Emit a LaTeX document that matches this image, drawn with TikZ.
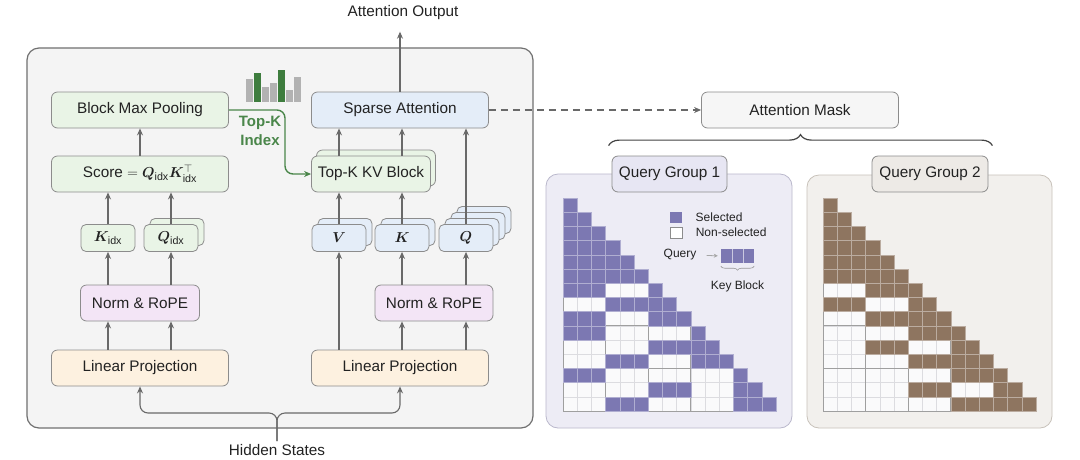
\documentclass[tikz,border=0pt]{standalone}
\usepackage{amsmath,bm}
\usepackage{fontspec}
\setmainfont{Liberation Sans}
\usepackage{xcolor}
\usepackage{tikz}
\usetikzlibrary{shapes,arrows.meta,positioning,calc,decorations.pathreplacing}
\definecolor{ink}{RGB}{34,34,34}
\definecolor{edgegray}{RGB}{140,140,140}
\definecolor{arrowgray}{RGB}{105,105,105}
\definecolor{outerfill}{RGB}{244,244,244}
\definecolor{outeredge}{RGB}{112,112,112}
\definecolor{greenfill}{RGB}{233,244,230}
\definecolor{bluefill}{RGB}{228,237,248}
\definecolor{pinkfill}{RGB}{243,229,246}
\definecolor{orangefill}{RGB}{253,241,224}
\definecolor{maskfill}{RGB}{246,246,246}
\definecolor{topkgreen}{RGB}{74,134,74}
\definecolor{bargreen}{RGB}{62,125,62}
\definecolor{bargray}{RGB}{178,178,178}
\definecolor{lavfill}{RGB}{237,236,245}
\definecolor{lavtab}{RGB}{231,230,243}
\definecolor{lavedge}{RGB}{186,184,204}
\definecolor{sandfill}{RGB}{242,240,237}
\definecolor{sandtab}{RGB}{237,234,230}
\definecolor{sandedge}{RGB}{200,194,186}
\definecolor{selpurple}{RGB}{124,120,178}
\definecolor{selbrown}{RGB}{142,117,96}
\definecolor{cellbg}{RGB}{250,250,251}
\definecolor{cellline}{RGB}{220,220,224}
\tikzset{
    box/.style={
        rectangle,
        rounded corners=6pt,
        draw=edgegray,
        line width=0.8pt,
        minimum width=177pt,
        minimum height=36pt,
        text=ink,
        font=\fontsize{15.3}{18}\selectfont
    },
    smallbox/.style={box, rounded corners=5pt, minimum width=54pt, minimum height=27pt},
    plaintext/.style={text=ink, font=\fontsize{15.3}{18}\selectfont},
    legtxt/.style={text=ink, font=\fontsize{12}{14}\selectfont},
    arr/.style={
        -{Stealth[length=7pt,width=6pt]},
        draw=arrowgray,
        line width=1.1pt
    },
    greenarr/.style={arr, draw=topkgreen, line width=1.4pt},
    dasharr/.style={arr, dash pattern=on 7pt off 5pt},
    emptycell/.style={fill=cellbg, draw=cellline, line width=0.5pt},
    blockline/.style={draw=gray!75, line width=0.8pt}
}
\newcommand{\maskgrid}[3]{%
  \begin{scope}[shift={#1}, x=14.2pt, y=-14.2pt]
    \foreach \qr in {0,...,14}
      \foreach \kc in {0,...,\qr}
        \draw[emptycell] (\kc,\qr) rectangle ++(1,1);
    \foreach \k in {0,...,4}{
      \draw[blockline] (3*\k,3*\k) -- (3*\k,15);
      \draw[blockline] (0,3*\k+3) -- (3*\k+3,3*\k+3);
    }
    \foreach \qr/\ka/\kb in {#3}
      \foreach \kc in {0,...,\qr}{
        \pgfmathtruncatemacro\kblk{int(\kc/3)}
        \pgfmathtruncatemacro\kon{or(\kblk==\ka,\kblk==\kb)}
        \ifnum\kon=1 \draw[fill=#2, draw=#2!60!white, line width=0.5pt] (\kc,\qr) rectangle ++(1,1); \fi
      }
  \end{scope}}

\begin{document}
\begin{tikzpicture}[x=1pt, y=-1pt]
\path[use as bounding box, fill=white] (0,0) rectangle (1080,459);

% indexer and attention branch
\node[box, rounded corners=12pt, fill=outerfill, draw=outeredge, line width=1.2pt, minimum width=506pt, minimum height=380pt] (encoder) at (280,238) {};

\node[box, fill=greenfill] (bmp) at (140,110) {Block Max Pooling};
\node[box, fill=greenfill] (score) at (140,174) {Score $=\boldsymbol{Q}_{\text{idx}}\boldsymbol{K}_{\text{idx}}^{\top}$};
\node[smallbox, fill=greenfill] (kidx) at (108,238) {$\boldsymbol{K}_{\text{idx}}$};
\node[smallbox, fill=greenfill] (qidx-b) at (177,232) {};
\node[smallbox, fill=greenfill] (qidx) at (171,238) {$\boldsymbol{Q}_{\text{idx}}$};
\node[box, fill=pinkfill, minimum width=119pt] (normL) at (140,303) {Norm \& RoPE};
\node[box, fill=orangefill] (linL) at (140,368) {Linear Projection};

\node[box, fill=bluefill] (sparse) at (400,110) {Sparse Attention};
\node[box, fill=greenfill, minimum width=119pt] (topk-b) at (376,168) {};
\node[box, fill=greenfill, minimum width=119pt] (topk) at (371,174) {Top-K KV Block};
\node[smallbox, fill=bluefill] (vval-b) at (345,232) {};
\node[smallbox, fill=bluefill] (vval) at (339,238) {$\boldsymbol{V}$};
\node[smallbox, fill=bluefill] (kval-b) at (408,232) {};
\node[smallbox, fill=bluefill] (kval) at (402,238) {$\boldsymbol{K}$};
\foreach \s in {3,2,1}
    \node[smallbox, fill=bluefill] (qval-\s) at (466+6*\s,238-6*\s) {};
\node[smallbox, fill=bluefill] (qval) at (466,238) {$\boldsymbol{Q}$};
\node[box, fill=pinkfill, minimum width=118pt] (normR) at (434,303) {Norm \& RoPE};
\node[box, fill=orangefill] (linR) at (400,368) {Linear Projection};

\node[plaintext] (out) at (403,13) {Attention Output};
\coordinate (fork) at (277,413);
\node[plaintext, below=28pt of fork] (hid) {Hidden States};

% top-k scores
\foreach \k/\h/\c in {0/23/bargray,1/29/bargreen,2/15/bargray,3/19/bargray,4/32/bargreen,5/12/bargray,6/25/bargray}
    \fill[\c] (246+8*\k,102) rectangle ++(7,-\h);
\node[text=topkgreen, font=\bfseries\fontsize{15}{19}\selectfont, align=center] (topklbl) at (260,131) {Top-K\\Index};
\coordinate (bend) at (285,140);

\draw[arr] (linL.north -| kidx) -- (normL.south -| kidx);
\draw[arr] (linL.north -| qidx) -- (normL.south -| qidx);
\draw[arr] (normL.north -| kidx) -- (kidx.south);
\draw[arr] (normL.north -| qidx) -- (qidx.south);
\draw[arr] (kidx.north) -- (score.south -| kidx);
\draw[arr] (qidx.north) -- (score.south -| qidx);
\draw[arr] (score.north) -- (bmp.south);
\draw[arr] (linR.north -| vval) -- (vval.south);
\draw[arr] (linR.north -| kval) -- (normR.south -| kval);
\draw[arr] (linR.north -| qval) -- (normR.south -| qval);
\draw[arr] (normR.north -| kval) -- (kval.south);
\draw[arr] (normR.north -| qval) -- (qval.south);
\draw[arr] (vval.north) -- (topk.south -| vval);
\draw[arr] (kval.north) -- (topk.south -| kval);
\draw[arr] (topk.north -| vval) -- (sparse.south -| vval);
\draw[arr] (topk.north -| kval) -- (sparse.south -| kval);
\draw[arr] (qval.north) -- (sparse.south -| qval);
\draw[arr, shorten >=8pt] (sparse.north) -- (sparse.north |- out.south);
\draw[arr, rounded corners=8pt] (hid.north) -- (fork) -| (linL.south);
\draw[arr, rounded corners=8pt] (hid.north) -- (fork) -| (linR.south);
\draw[greenarr, rounded corners=8pt] (bmp.east) -| (bend) |- (topk.west);

% attention mask
\node[box, fill=maskfill, minimum width=197pt] (mask) at (800,110) {Attention Mask};
\draw[dasharr] (sparse.east) -- (mask.west);

\node[box, rounded corners=12pt, fill=lavfill, draw=lavedge, minimum width=246pt, minimum height=254pt] (grp1) at (669,301) {};
\node[box, fill=lavtab, minimum width=115pt] (tab1) at (669.5,174) {Query Group 1};
\node[box, rounded corners=12pt, fill=sandfill, draw=sandedge, minimum width=245pt, minimum height=253pt] (grp2) at (929.5,301.5) {};
\node[box, fill=sandtab, minimum width=116pt] (tab2) at (930,174) {Query Group 2};
\draw[draw=ink!85, line width=1.2pt, decorate, decoration={brace, amplitude=11pt}]
    ([xshift=-3pt,yshift=10pt]tab1.north west) -- ([xshift=4pt,yshift=10pt]tab2.north east);

\maskgrid{(563pt,-198pt)}{selpurple}{0/0/0,1/0/0,2/0/0,3/0/1,4/0/1,5/0/1,6/0/2,7/1/2,8/0/2,9/0/3,10/2/3,11/1/3,12/0/4,13/2/4,14/1/4}
\maskgrid{(823pt,-198pt)}{selbrown}{0/0/0,1/0/0,2/0/0,3/0/1,4/0/1,5/0/1,6/1/2,7/0/2,8/1/2,9/2/3,10/1/3,11/2/3,12/3/4,13/2/4,14/3/4}

% legend
\node[rectangle, fill=selpurple, inner sep=0pt, minimum width=12pt, minimum height=11pt] (legsel) at (676,217.5) {};
\node[legtxt, right=10pt of legsel] (legseltxt) {Selected};
\node[rectangle, fill=white, draw=edgegray, line width=0.5pt, inner sep=0pt, minimum width=12pt, minimum height=11pt] (legnon) at (676,232.5) {};
\node[legtxt, right=10pt of legnon] (legnontxt) {Non-selected};
\node[legtxt, inner sep=0pt] (legq) at (680,255) {Query};
\node[rectangle, fill=selpurple, inner sep=0pt, minimum width=33pt, minimum height=14pt] (legblk) at (737.5,256) {};
\foreach \k in {1,2}
    \draw[white!60!selpurple, line width=0.5pt] ($(legblk.north west)+(11*\k,0)$) -- ($(legblk.south west)+(11*\k,0)$);
\draw[-{Stealth[length=4pt,width=4pt]}, draw=gray!70, line width=0.8pt, shorten <=10pt, shorten >=3pt] (legq.east) -- (legblk.west);
\draw[draw=gray!80, line width=0.6pt, decorate, decoration={brace, mirror, amplitude=4pt}]
    ([yshift=-3pt]legblk.south west) -- ([yshift=-3pt]legblk.south east);
\node[legtxt, below=14pt of legblk] (legkb) {Key Block};
\end{tikzpicture}
\end{document}
